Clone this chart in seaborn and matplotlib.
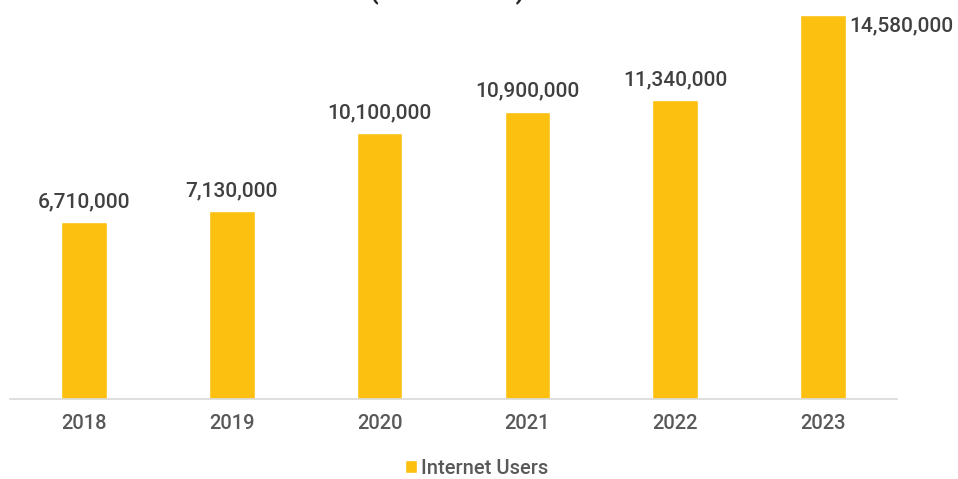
import matplotlib
matplotlib.use("Agg")
import matplotlib.pyplot as plt
import seaborn as sns
import pandas as pd

years = ["2018", "2019", "2020", "2021", "2022", "2023"]
users = [6710000, 7130000, 10100000, 10900000, 11340000, 14580000]
series_name = "Internet Users"
title_text = "(2018 - 2023)"

BAR = "#FCC010"
TXT = "#404040"
TICK = "#595959"

sns.set_theme(style="white")
plt.rcParams["font.family"] = ["Roboto", "DejaVu Sans"]

df = pd.DataFrame({"Year": years, "Users": users, "Series": series_name})

fig = plt.figure(figsize=(9.58, 4.79), dpi=100)
ax = fig.add_axes([10 / 958, 80 / 479, 887 / 958, 384 / 479])

sns.barplot(data=df, x="Year", y="Users", hue="Series", palette=[BAR],
            width=0.31, ax=ax, legend=True, saturation=1)

ax.set_ylim(0, max(users))
ax.set_xlim(-0.5, len(years) - 0.5)
ax.set_xlabel("")
ax.set_ylabel("")
ax.set_yticks([])
for s in ["top", "right", "left"]:
    ax.spines[s].set_visible(False)
ax.spines["bottom"].set_color("#D9D9D9")
ax.spines["bottom"].set_linewidth(1.2)
ax.tick_params(axis="x", length=0, pad=11, labelsize=14.5, labelcolor=TICK)
for t in ax.get_xticklabels():
    t.set_fontweight("medium")

vmax = max(users)
for i, v in enumerate(users):
    lab = f"{v:,}"
    if v == vmax:
        ax.annotate(lab, (i + 0.31 / 2, v), xytext=(2, -1), textcoords="offset points",
                    ha="left", va="top", fontsize=15, color=TXT, fontweight="medium")
    else:
        ax.annotate(lab, (i, v), xytext=(0, 8), textcoords="offset points",
                    ha="center", va="bottom", fontsize=15, color=TXT, fontweight="medium")

handles, labels = ax.get_legend_handles_labels()
leg = ax.legend(handles, labels, loc="center", bbox_to_anchor=(477 / 958, 1 - 468 / 479),
                bbox_transform=fig.transFigure, frameon=False, fontsize=14.5,
                handlelength=0.6, handleheight=0.6, handletextpad=0.2,
                labelcolor=TICK, borderpad=0)
for t in leg.get_texts():
    t.set_fontweight("medium")

fig.text(447 / 958, 1 + 1 / 479, title_text, ha="center", va="baseline",
         fontsize=18, fontweight="bold", color="#262626")

fig.savefig("out.png", dpi=100)
